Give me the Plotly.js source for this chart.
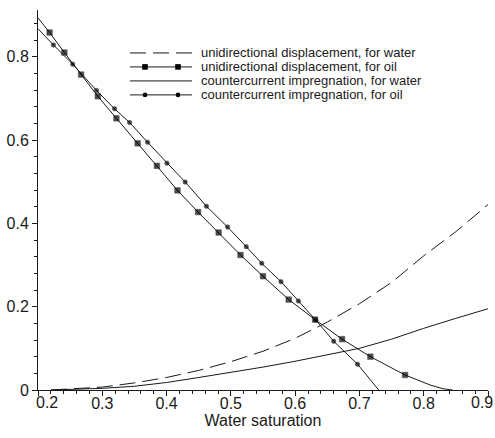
<!DOCTYPE html>
<html>
<head>
<meta charset="utf-8">
<script src="https://cdn.plot.ly/plotly-3.0.1.min.js"></script>
<style>html,body{margin:0;padding:0;background:#fff;}#chart{width:495px;height:438px;}</style>
</head>
<body>
<div id="chart"></div>
<script>
// ---- data ----
const seriesNames = [
  "unidirectional displacement, for water",
  "unidirectional displacement, for oil",
  "countercurrent impregnation, for water",
  "countercurrent impregnation, for oil"
];
const waterX = [0.22,0.25,0.30,0.35,0.40,0.45,0.50,0.55,0.60,0.65,0.70,0.75,0.80,0.85,0.90];
const uniWaterY = [0.000,0.002,0.007,0.017,0.030,0.047,0.068,0.093,0.124,0.163,0.207,0.258,0.322,0.380,0.445];
const counterWaterY = [0.000,0.001,0.004,0.009,0.018,0.030,0.042,0.055,0.069,0.084,0.100,0.122,0.148,0.172,0.195];

const uniOilX = [0.200,0.218,0.241,0.267,0.293,0.322,0.355,0.385,0.417,0.449,0.481,0.515,0.550,0.590,0.631,0.673,0.717,0.771,0.810,0.830,0.845];
const uniOilY = [0.893,0.858,0.810,0.757,0.705,0.652,0.592,0.538,0.479,0.427,0.378,0.324,0.273,0.217,0.169,0.122,0.080,0.036,0.012,0.003,0.000];
const uniOilMarked = [0,1,1,1,1,1,1,1,1,1,1,1,1,1,1,1,1,1,0,0,0];

const counterOilX = [0.200,0.224,0.254,0.291,0.319,0.3425,0.3705,0.4006,0.429,0.462,0.495,0.524,0.548,0.578,0.605,0.632,0.660,0.697,0.730];
const counterOilY = [0.867,0.828,0.782,0.719,0.675,0.642,0.5945,0.5445,0.499,0.441,0.391,0.344,0.304,0.260,0.2136,0.168,0.117,0.062,0.000];
const counterOilMarked = [0,1,1,1,1,1,1,1,1,1,1,1,1,1,1,1,1,1,0];

const xTicks = [0.2,0.3,0.4,0.5,0.6,0.7,0.8,0.9];
const yTicks = [0,0.2,0.4,0.6,0.8];

// ---- styling ----
const INK = '#1a1a1a';
const FONT = 'Liberation Sans, Arial, sans-serif';
const dashPattern = '16px,7px';
const W = 495, H = 438;
const M = {l: 38, r: 7, t: 10, b: 47.5};
const pw = W - M.l - M.r, ph = H - M.t - M.b;
const px2x = p => (p - M.l) / pw;
const py2y = p => (H - M.b - p) / ph;

const traces = [
  {x: waterX, y: uniWaterY, name: seriesNames[0], mode: 'lines',
   line: {color: INK, width: 1, dash: dashPattern}, showlegend: false},
  {x: uniOilX, y: uniOilY, name: seriesNames[1], mode: 'lines+markers',
   line: {color: INK, width: 1},
   marker: {symbol: 'square', color: '#000', size: uniOilMarked.map(m => m ? 5.5 : 0),
            line: {color: '#000', width: 0.6}}, showlegend: false},
  {x: waterX, y: counterWaterY, name: seriesNames[2], mode: 'lines',
   line: {color: INK, width: 1}, showlegend: false},
  {x: counterOilX, y: counterOilY, name: seriesNames[3], mode: 'lines+markers',
   line: {color: INK, width: 1},
   marker: {symbol: 'circle', color: '#000', size: counterOilMarked.map(m => m ? 4.5 : 0),
            line: {color: '#000', width: 0.5}}, showlegend: false}
];

// ---- manual compact legend ----
const legRows = [53, 67, 81, 95];
const legX0 = 130, legX1 = 192, legMk = [145, 178], legText = 200;
const shapes = [];
const annotations = [];
legRows.forEach((ry, i) => {
  shapes.push({type: 'line', xref: 'paper', yref: 'paper',
    x0: px2x(legX0), x1: px2x(legX1), y0: py2y(ry), y1: py2y(ry),
    line: {color: INK, width: 1, dash: i === 0 ? dashPattern : 'solid'}});
  if (i === 1 || i === 3) {
    const s = i === 1 ? 2.8 : 2.3;
    legMk.forEach(mx => {
      shapes.push({type: i === 1 ? 'rect' : 'circle', xref: 'paper', yref: 'paper',
        x0: px2x(mx - s), x1: px2x(mx + s), y0: py2y(ry + s), y1: py2y(ry - s),
        fillcolor: '#000', line: {color: '#000', width: 0}});
    });
  }
  annotations.push({xref: 'paper', yref: 'paper', x: px2x(legText), y: py2y(ry),
    xanchor: 'left', yanchor: 'middle', showarrow: false, text: seriesNames[i], borderpad: 0,
    font: {family: FONT, size: 13, color: INK}});
});

// end tick labels nudged inward, as in the reference (first shifted right, last kept inside the frame)
const tickFont = {family: FONT, size: 16, color: INK};
annotations.push({xref: 'paper', yref: 'paper', x: px2x(47), y: py2y(403), xanchor: 'center', yanchor: 'middle',
  showarrow: false, text: xTicks[0].toFixed(1), borderpad: 0, font: tickFont});
annotations.push({xref: 'paper', yref: 'paper', x: px2x(494), y: py2y(403), xanchor: 'right', yanchor: 'middle',
  showarrow: false, text: xTicks[xTicks.length - 1].toFixed(1), borderpad: 0, font: tickFont});

const layout = {
  width: W, height: H,
  margin: M,
  paper_bgcolor: '#fff', plot_bgcolor: '#fff',
  font: {family: FONT, size: 16, color: INK},
  xaxis: {
    range: [0.2, 0.9], tickvals: xTicks,
    ticktext: xTicks.map((v, i) => (i === 0 || i === xTicks.length - 1) ? '' : v.toFixed(1)),
    ticks: 'outside', ticklen: 5, tickwidth: 1, tickcolor: INK,
    ticklabelstandoff: -6,
    minor: {dtick: 0.02, tick0: 0.2, ticks: 'outside', ticklen: 3, tickcolor: INK, showgrid: false},
    showline: true, linecolor: INK, linewidth: 1, showgrid: false, zeroline: false,
    tickfont: tickFont,
    title: {text: 'Water saturation', font: {family: FONT, size: 16, color: INK}, standoff: 0}
  },
  yaxis: {
    range: [0, 0.912], tickvals: yTicks, ticktext: yTicks.map(v => v === 0 ? '0' : v.toFixed(1)),
    ticks: 'outside', ticklen: 5, tickwidth: 1, tickcolor: INK,
    minor: {dtick: 0.04, tick0: 0, ticks: 'outside', ticklen: 3, tickcolor: INK, showgrid: false},
    showline: true, linecolor: INK, linewidth: 1, showgrid: false, zeroline: false,
    tickfont: tickFont
  },
  shapes: shapes,
  annotations: annotations,
  showlegend: false
};

Plotly.newPlot('chart', traces, layout, {displayModeBar: false, staticPlot: true});
</script>
</body>
</html>
